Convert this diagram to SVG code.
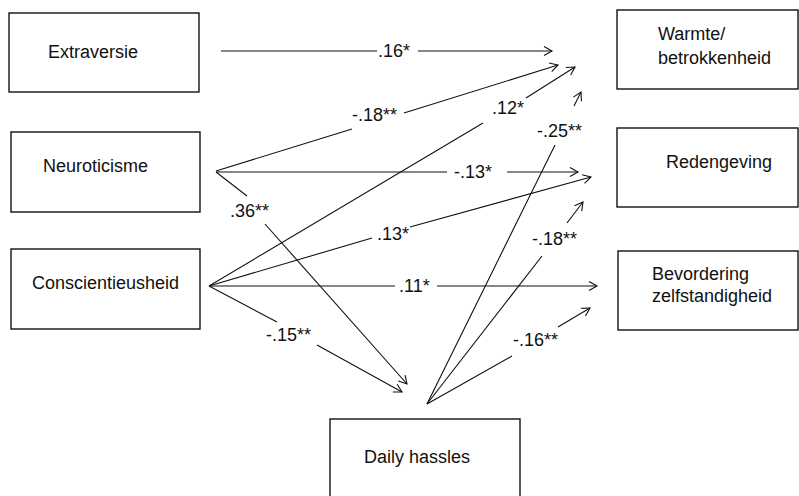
<svg xmlns="http://www.w3.org/2000/svg" width="799" height="496" viewBox="0 0 799 496">
<style>
.box{fill:#fff;stroke:#111;stroke-width:1.4}
.t{font-family:"Liberation Sans",Arial,sans-serif;font-size:18px;fill:#111}
.c{fill:none;stroke:#111;stroke-width:1.1}
</style>
<defs>
<marker id="ah" markerUnits="userSpaceOnUse" markerWidth="12" markerHeight="12" refX="9" refY="5" orient="auto">
<path d="M1,0.5 L9,5 L1,9.5" fill="none" stroke="#111" stroke-width="1.1"/>
</marker>
</defs>
<rect width="799" height="496" fill="#fff"/>
<g id="extraversie"><rect class="box" x="9" y="13" width="190" height="79"/><text class="t" x="48" y="58">Extraversie</text></g>
<g id="neuroticisme"><rect class="box" x="11" y="132" width="189" height="80"/><text class="t" x="43" y="172">Neuroticisme</text></g>
<g id="conscientieusheid"><rect class="box" x="11" y="249" width="189" height="80"/><text class="t" x="32" y="289">Conscientieusheid</text></g>
<g id="warmte"><rect class="box" x="617" y="10" width="181" height="79"/><text class="t" x="658" y="40">Warmte/</text><text class="t" x="658" y="64">betrokkenheid</text></g>
<g id="redengeving"><rect class="box" x="617" y="128" width="181" height="79"/><text class="t" x="666" y="168">Redengeving</text></g>
<g id="bevordering"><rect class="box" x="618" y="251" width="180" height="79"/><text class="t" x="652" y="280">Bevordering</text><text class="t" x="652" y="302">zelfstandigheid</text></g>
<g id="hassles"><rect class="box" x="330" y="419" width="190" height="90"/><text class="t" x="364" y="463">Daily hassles</text></g>
<g id="connectors">
<path class="c" marker-end="url(#ah)" d="M221,51 L377,51 M418,51 L552,51"/>
<path class="c" marker-end="url(#ah)" d="M216,171 L352,129 M404,113 L558,65"/>
<path class="c" marker-end="url(#ah)" d="M209,286 L483,123 M526,98 L575,67"/>
<path class="c" marker-end="url(#ah)" d="M427,404 L555,145 M574,106 L581,92"/>
<path class="c" marker-end="url(#ah)" d="M216,172 L447,172 M507,172 L578,172"/>
<path class="c" marker-end="url(#ah)" d="M209,286 L372,238 M410,227 L591,177"/>
<path class="c" marker-end="url(#ah)" d="M427,404 L542,256 M567,223 L583,202"/>
<path class="c" marker-end="url(#ah)" d="M209,286 L395,286 M437,286 L597,286"/>
<path class="c" marker-end="url(#ah)" d="M427,404 L512,356 M558,327 L590,308"/>
<path class="c" marker-end="url(#ah)" d="M216,172 L247,196 M265,224 L407,384"/>
<path class="c" marker-end="url(#ah)" d="M209,286 L277,322 M317,345 L402,392"/>
<text class="t" x="378" y="57">.16*</text>
<text class="t" x="352" y="121">-.18**</text>
<text class="t" x="492" y="114">.12*</text>
<text class="t" x="537" y="137">-.25**</text>
<text class="t" x="454" y="178">-.13*</text>
<text class="t" x="377" y="240">.13*</text>
<text class="t" x="532" y="245">-.18**</text>
<text class="t" x="399" y="292">.11*</text>
<text class="t" x="230" y="217">.36**</text>
<text class="t" x="266" y="341">-.15**</text>
<text class="t" x="513" y="346">-.16**</text>
</g>
</svg>
